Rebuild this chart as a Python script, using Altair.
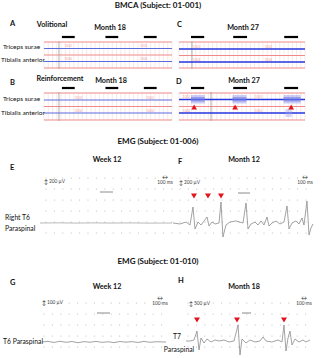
import altair as alt
import numpy as np
import pandas as pd

W, H = 321, 358
FONT = "Lato"

# ---------------- data ----------------
# BMCA panels (time in s): stimulation windows marked by the black bars
stim_month18 = [(1.4, 2.4), (4.8, 5.8), (7.8, 8.8)]
stim_month27 = [(0.95, 2.0), (4.3, 5.4), (8.35, 9.45)]
# Month 27 reinforcement: EMG bursts (s)
bursts_D_triceps = [(0.95, 2.05), (4.25, 5.35), (8.3, 9.65)]
bursts_D_tibialis = [(8.45, 8.95)]
arrows_D = [1.2, 4.45, 8.9]
cursor_time = {"A": 1.17, "B": 1.17, "C": 1.03, "D": 2.54}
channel_tag_times = {"A": [1.6, 7.5], "B": [2.4, 8.0], "C": [1.1, 6.8], "D": [0.3, 6.0]}

# EMG traces (time in ms, amplitude in µV)
E_t = [0, 300, 600, 900, 1200, 1500, 1800, 2200]
E_v = [0, 5, -3, 4, -2, 3, -4, 0]
F_t = [0, 117, 217, 283, 333, 367, 417, 467, 517, 567, 600, 650, 700, 767, 800, 833, 883, 950, 1050, 1167,
       1217, 1250, 1300, 1367, 1417, 1467, 1517, 1567, 1600, 1650, 1717, 1783, 1850, 1900, 1933, 1983, 2050,
       2100, 2150, 2183, 2233, 2267, 2300, 2333]
F_v = [0, -33, 33, -67, 533, -200, 33, -67, 67, 200, -100, 33, -33, 0, 700, -467, -67, 33, 67, 0,
       667, -200, -33, 33, -67, 67, -67, 200, -100, 0, 67, -33, 33, 567, -200, 0, 67,
       -33, 167, -67, 733, -400, -167, -33]
F_marks = [350, 583, 800]
G_t = [0, 100, 200, 300, 400, 500, 600, 700, 800, 900, 1000, 1100, 1200, 1300, 1400, 1500, 1600, 1700,
       1800, 1900, 2067]
G_v = [0, 10, -8, 12, -5, 8, -12, 6, -4, 10, -6, 4, -10, 8, -3, 6, -8, 10, -5, 4, 0]
H_t = [0, 67, 133, 183, 217, 250, 300, 350, 417, 483, 550, 633, 717, 800, 867, 900, 933, 1000, 1067, 1150,
       1233, 1283, 1333, 1433, 1533, 1600, 1633, 1667, 1700, 1733, 1767, 1817, 1883, 1950, 2000, 2067]
H_v = [0, 0, 83, 833, -750, 250, -167, 167, -83, 83, 0, 83, -83, 0, 1333, -1167, 167, -167, 83, -83,
       0, 333, 0, -83, 83, -83, 1333, -833, 250, 833, -333, 167, -83, 83, -83, 83]
H_marks = [183, 850, 1633]

# ---------------- layout ----------------
bm = {
    "A": dict(x0=44, x1=172, red=[42, 55, 68], rows=[48.5, 61.5], bar_y=37, stim=stim_month18, lw=1.0, blue="#5a6be0"),
    "B": dict(x0=44, x1=172, red=[93, 106.5, 120], rows=[100, 113], bar_y=88, stim=stim_month18, lw=1.0, blue="#5a6be0"),
    "C": dict(x0=179, x1=305, red=[42, 55.5, 68], rows=[49, 62], bar_y=37, stim=stim_month27, lw=1.6, blue="#2436e0"),
    "D": dict(x0=179, x1=305, red=[93, 106.5, 120], rows=[99.5, 113], bar_y=88, stim=stim_month27, lw=1.6, blue="#2436e0"),
}
SPAN = 10.0
emg = {
    "E": dict(t=E_t, v=E_v, x0=40, y0=223, ky=0.03, gx=(46, 172), gy=(178, 233), tick=(100, 113, 192), marks=[], my=196, col="#a8a8a8"),
    "F": dict(t=F_t, v=F_v, x0=173, y0=223, ky=0.03, gx=(180, 313), gy=(178, 233), tick=(238, 250, 193), marks=F_marks, my=196, col="#8c8c8c"),
    "G": dict(t=G_t, v=G_v, x0=42, y0=342, ky=0.06, gx=(44, 166), gy=(303, 347), tick=(97, 110, 313), marks=[], my=320, col="#8c8c8c"),
    "H": dict(t=H_t, v=H_v, x0=186, y0=341, ky=0.012, gx=(188, 311), gy=(303, 347), tick=(242, 251, 313), marks=H_marks, my=320, col="#8c8c8c"),
}
KX = 0.06

def bx(p, t):
    f = bm[p]
    return f["x0"] + (f["x1"] - f["x0"]) * t / SPAN

lines, rules, rects, tri_up, tri_dn, dots = [], [], [], [], [], []

# BMCA panels
for p, f in bm.items():
    for t in np.arange(0, SPAN + 0.01, 1 / 3):
        rules.append(dict(x=bx(p, t), x2=bx(p, t), y=f["red"][0], y2=f["red"][-1], c="#f4cfcf", w=0.6, o=0.8))
    for y in f["red"]:
        rules.append(dict(x=f["x0"], x2=f["x1"], y=y, y2=y, c="#f08a8a", w=1.2, o=1))
    cx = bx(p, cursor_time[p])
    rules.append(dict(x=cx, x2=cx, y=f["red"][0] - 1, y2=f["red"][-1] + 1, c="#9a9a9a", w=0.8, o=1))
    for (a, b) in f["stim"]:
        rules.append(dict(x=bx(p, a), x2=bx(p, b), y=f["bar_y"], y2=f["bar_y"], c="#000000", w=2.2, o=1))
    for y in f["rows"]:
        rules.append(dict(x=f["x0"], x2=f["x1"], y=y, y2=y, c=f["blue"], w=f["lw"], o=1))

for (a, b) in bursts_D_triceps:
    y = bm["D"]["rows"][0]
    rects.append(dict(x=bx("D", a), x2=bx("D", b), y=y - 4.5, y2=y + 4, c="#8a92ea", o=0.45))
    rects.append(dict(x=bx("D", a), x2=bx("D", b), y=y - 2.5, y2=y + 2, c="#6068e0", o=0.45))
for (a, b) in bursts_D_tibialis:
    y = bm["D"]["rows"][1]
    rects.append(dict(x=bx("D", a), x2=bx("D", b), y=y - 4, y2=y + 4, c="#9aa0ea", o=0.4))
for t in arrows_D:
    tri_up.append(dict(x=bx("D", t), y=bm["D"]["red"][1] + 0.5))

# EMG panels
for p, f in emg.items():
    for xg in np.arange(f["gx"][0], f["gx"][1] + 0.1, 8.4):
        for yg in np.arange(f["gy"][0], f["gy"][1] + 0.1, 11):
            dots.append(dict(x=xg, y=yg))
    for i, (t, v) in enumerate(zip(f["t"], f["v"])):
        lines.append(dict(x=f["x0"] + KX * t, y=f["y0"] - f["ky"] * v, g=p, i=i, c=f["col"]))
    a, b, y = f["tick"]
    rules.append(dict(x=a, x2=b, y=y, y2=y, c="#8a8a8a", w=1.0, o=1))
    for t in f["marks"]:
        tri_dn.append(dict(x=f["x0"] + KX * t, y=f["my"]))

# texts: (text, x, y, size, weight, align, color)
texts = [
    ("BMCA (Subject: 01-001)", 158, 6, 8, "bold", "center", "#111"),
    ("EMG (Subject: 01-006)", 158, 142, 8, "bold", "center", "#111"),
    ("EMG (Subject: 01-010)", 158, 262, 8, "bold", "center", "#111"),
    ("A", 10, 24, 7.5, "bold", "left", "#111"), ("B", 10, 83, 7.5, "bold", "left", "#111"),
    ("C", 177, 25, 7.5, "bold", "left", "#111"), ("D", 176, 82, 7.5, "bold", "left", "#111"),
    ("E", 10, 168, 7.5, "bold", "left", "#111"), ("F", 178, 162, 7.5, "bold", "left", "#111"),
    ("G", 10, 283, 7.5, "bold", "left", "#111"), ("H", 178, 281, 7.5, "bold", "left", "#111"),
    ("Volitional", 52, 25, 7.2, "bold", "center", "#111"), ("Month 18", 110, 28, 7.2, "bold", "center", "#111"),
    ("Month 27", 243, 28, 7.2, "bold", "center", "#111"),
    ("Reinforcement", 60, 79, 7.2, "bold", "center", "#111"), ("Month 18", 111, 81, 7.2, "bold", "center", "#111"),
    ("Month 27", 244, 81, 7.2, "bold", "center", "#111"),
    ("Week 12", 107, 160, 7.2, "bold", "center", "#111"), ("Month 12", 244, 160, 7.2, "bold", "center", "#111"),
    ("Week 12", 107, 287, 7.2, "bold", "center", "#111"), ("Month 18", 244, 287, 7.2, "bold", "center", "#111"),
    ("Triceps surae", 3, 47, 6.5, "normal", "left", "#111"), ("Tibialis anterior", 1, 60, 6.5, "normal", "left", "#111"),
    ("Triceps surae", 3, 99, 6.5, "normal", "left", "#111"), ("Tibialis anterior", 1, 113, 6.5, "normal", "left", "#111"),
    ("Right T6", 5, 218, 6.8, "normal", "left", "#111"), ("Paraspinal", 5, 229, 6.8, "normal", "left", "#111"),
    ("T6 Paraspinal", 3, 342, 6.8, "normal", "left", "#111"),
    ("T7", 177, 337, 6.8, "normal", "center", "#111"), ("Paraspinal", 179, 350, 6.8, "normal", "center", "#111"),
    ("↕", 46, 182, 6, "normal", "center", "#333"), ("200 µV", 49, 182, 4.8, "normal", "left", "#444"),
    ("↔", 165, 177, 6, "normal", "center", "#333"), ("100 ms", 165, 183, 4.8, "normal", "center", "#444"),
    ("↕", 181, 183, 6, "normal", "center", "#333"), ("200 µV", 184, 183, 4.8, "normal", "left", "#444"),
    ("↔", 305, 177, 6, "normal", "center", "#333"), ("100 ms", 305, 183, 4.8, "normal", "center", "#444"),
    ("↕", 44, 303, 6, "normal", "center", "#333"), ("100 µV", 47, 303, 4.8, "normal", "left", "#444"),
    ("↔", 160, 298, 6, "normal", "center", "#333"), ("100 ms", 160, 304, 4.8, "normal", "center", "#444"),
    ("↕", 191, 304, 6, "normal", "center", "#333"), ("500 µV", 194, 304, 4.8, "normal", "left", "#444"),
    ("↔", 304, 298, 6, "normal", "center", "#333"), ("100 ms", 304, 304, 4.8, "normal", "center", "#444"),
]
for p, ts in channel_tag_times.items():
    for t in ts:
        texts.append(("1002", bx(p, t), bm[p]["rows"][0] - 2.5, 3.2, "normal", "left", "#f0a8a8"))
        texts.append(("1004", bx(p, t), bm[p]["rows"][1] - 2.5, 3.2, "normal", "left", "#f0a8a8"))

tdf = pd.DataFrame(texts, columns=["text", "x", "y", "size", "weight", "align", "color"])

X = lambda f="x": alt.X(f"{f}:Q", scale=alt.Scale(domain=[0, W], nice=False, zero=False), axis=None)
Y = lambda f="y": alt.Y(f"{f}:Q", scale=alt.Scale(domain=[0, H], nice=False, zero=False, reverse=True), axis=None)

layers = []
layers.append(alt.Chart(pd.DataFrame(dots)).mark_circle(size=1.4, color="#b5b5b5", opacity=1).encode(x=X(), y=Y()))
layers.append(alt.Chart(pd.DataFrame(rules)).mark_rule().encode(
    x=X(), x2="x2:Q", y=Y(), y2="y2:Q",
    color=alt.Color("c:N", scale=None), strokeWidth=alt.StrokeWidth("w:Q", scale=None),
    opacity=alt.Opacity("o:Q", scale=None)))
layers.append(alt.Chart(pd.DataFrame(rects)).mark_rect().encode(
    x=X(), x2="x2:Q", y=Y(), y2="y2:Q",
    color=alt.Color("c:N", scale=None), opacity=alt.Opacity("o:Q", scale=None)))
layers.append(alt.Chart(pd.DataFrame(lines)).mark_line(strokeWidth=0.8, interpolate="linear").encode(
    x=X(), y=Y(), detail="g:N", order="i:Q", color=alt.Color("c:N", scale=None)))
layers.append(alt.Chart(pd.DataFrame(tri_up)).mark_point(shape="triangle-up", filled=True, size=32, color="#e3141b", opacity=1).encode(x=X(), y=Y()))
layers.append(alt.Chart(pd.DataFrame(tri_dn)).mark_point(shape="triangle-down", filled=True, size=36, color="#e3141b", opacity=1).encode(x=X(), y=Y()))
for (wt, al), sub in tdf.groupby(["weight", "align"]):
    layers.append(alt.Chart(sub).mark_text(font=FONT, fontWeight=wt, align=al, baseline="middle").encode(
        x=X(), y=Y(), text="text:N", size=alt.Size("size:Q", scale=None), color=alt.Color("color:N", scale=None)))

chart = alt.layer(*layers).properties(
    width=W, height=H, padding=0, autosize=alt.AutoSizeParams(type="none"), background="white"
).configure_view(stroke=None)

chart.save("out.html", embed_options={"renderer": "svg", "actions": False})
